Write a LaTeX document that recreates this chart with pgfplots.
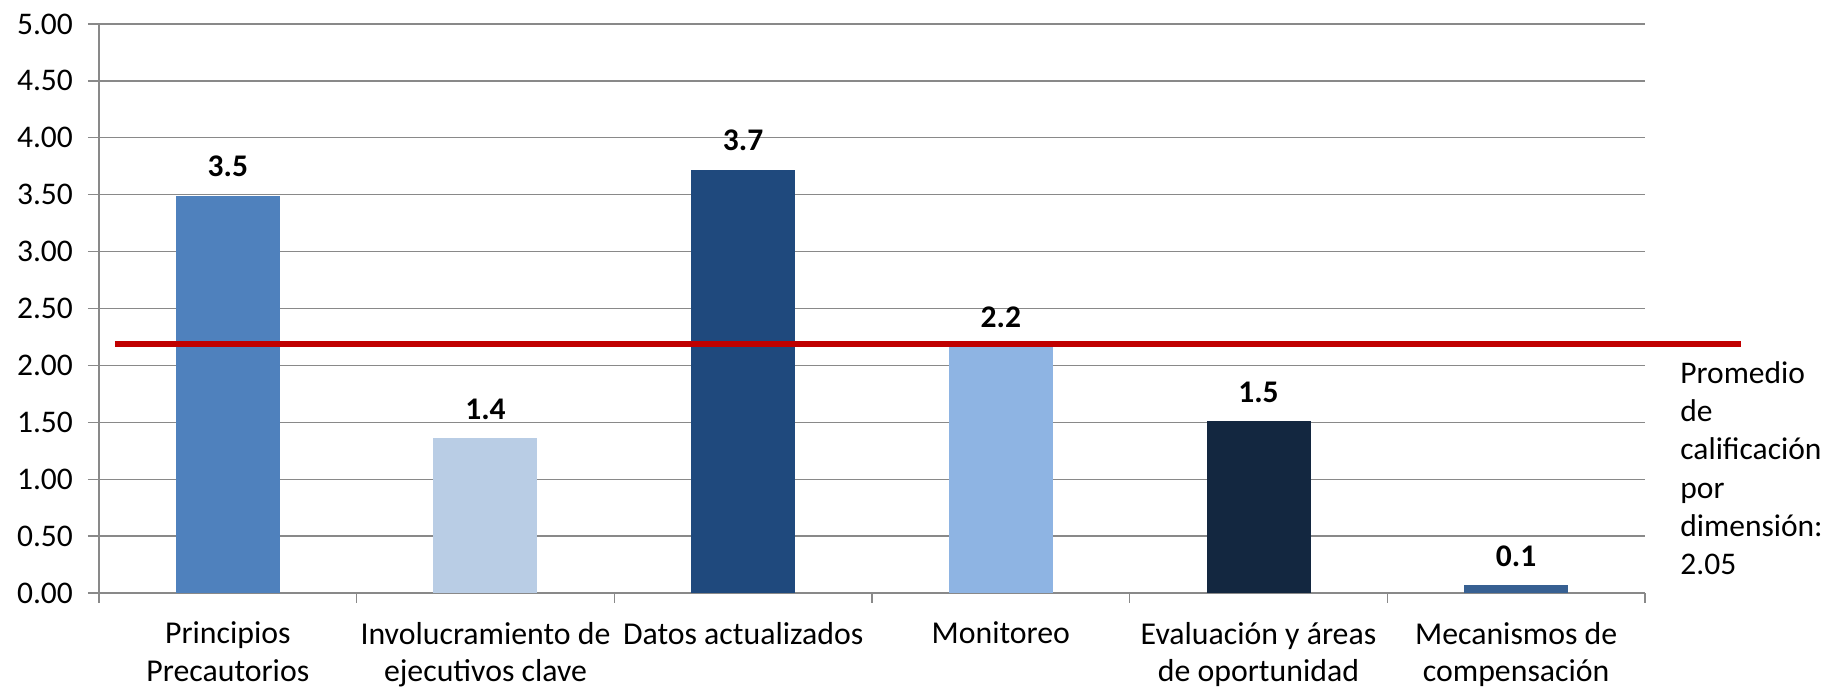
\documentclass[border=0pt]{standalone}
\usepackage{pgfplots}
\pgfplotsset{compat=1.18}
\usepackage{fontspec}
\setmainfont{Carlito}
\definecolor{gridgray}{HTML}{898989}
\definecolor{cA}{HTML}{4F81BD}
\definecolor{cB}{HTML}{B9CDE5}
\definecolor{cC}{HTML}{1F497D}
\definecolor{cD}{HTML}{8EB4E3}
\definecolor{cE}{HTML}{132740}
\definecolor{cF}{HTML}{376092}
\definecolor{avgred}{HTML}{C00000}
\begin{document}
\begin{tikzpicture}
\begin{axis}[
  scale only axis,
  width=773pt, height=284.5pt,
  xmin=-0.5, xmax=5.5, ymin=0, ymax=5,
  axis x line*=bottom, axis y line*=left,
  axis line style={draw=gridgray, line width=0.65pt},
  ytick={0,0.5,1,1.5,2,2.5,3,3.5,4,4.5,5},
  ymajorgrids,
  grid style={draw=gridgray, line width=0.65pt},
  y tick label style={/pgf/number format/fixed, /pgf/number format/fixed zerofill, /pgf/number format/precision=2, /pgf/number format/assume math mode=true, anchor=east, xshift=-4pt},
  xtick={0,1,2,3,4,5},
  xticklabels={{Principios\\Precautorios},{Involucramiento de\\ejecutivos clave},{Datos actualizados},{Monitoreo},{Evaluación y áreas\\de oportunidad},{Mecanismos de\\compensación}},
  major x tick style={draw=none},
  minor xtick={-0.5,0.5,1.5,2.5,3.5,4.5,5.5},
  minor x tick style={draw=gridgray, line width=0.65pt},
  tick align=outside,
  major tick length=5.5pt, minor tick length=5pt,
  y tick style={draw=gridgray, line width=0.65pt},
  font=\fontsize{15.75}{19.15}\selectfont,
  x tick label style={align=center, anchor=north, yshift=-5.5pt, font=\fontsize{15.9}{18.6}\selectfont},
  ybar, bar width=52pt, bar shift=0pt,
  clip=false,
  nodes near coords={\pgfmathprintnumber[fixed,fixed zerofill,precision=1,assume math mode=true]{\pgfplotspointmeta}},
  every node near coord/.append style={text=black, font=\fontsize{15.75}{19.15}\selectfont\bfseries, anchor=south, yshift=5.8pt},
]
\addplot[fill=cA, draw=none] coordinates {(0,3.49)};
\addplot[fill=cB, draw=none] coordinates {(1,1.36)};
\addplot[fill=cC, draw=none] coordinates {(2,3.72)};
\addplot[fill=cD, draw=none] coordinates {(3,2.17)};
\addplot[fill=cE, draw=none] coordinates {(4,1.51)};
\addplot[fill=cF, draw=none] coordinates {(5,0.07)};
\addplot[sharp plot, draw=avgred, line width=2.8pt, nodes near coords={}, forget plot] coordinates {(-0.438,2.19) (5.8725,2.19)};
\end{axis}
\node[anchor=base west, inner sep=0pt] at (790.5pt,104.85pt) {\fontsize{15.75}{19.15}\selectfont\vtop{\hbox{Promedio}\hbox{de}\hbox{calificación}\hbox{por}\hbox{dimensión:}\hbox{2.05}}};
\pgfresetboundingbox
\path (-49.5pt,-47.5pt) rectangle (864.5pt,296.5pt);
\end{tikzpicture}
\end{document}
